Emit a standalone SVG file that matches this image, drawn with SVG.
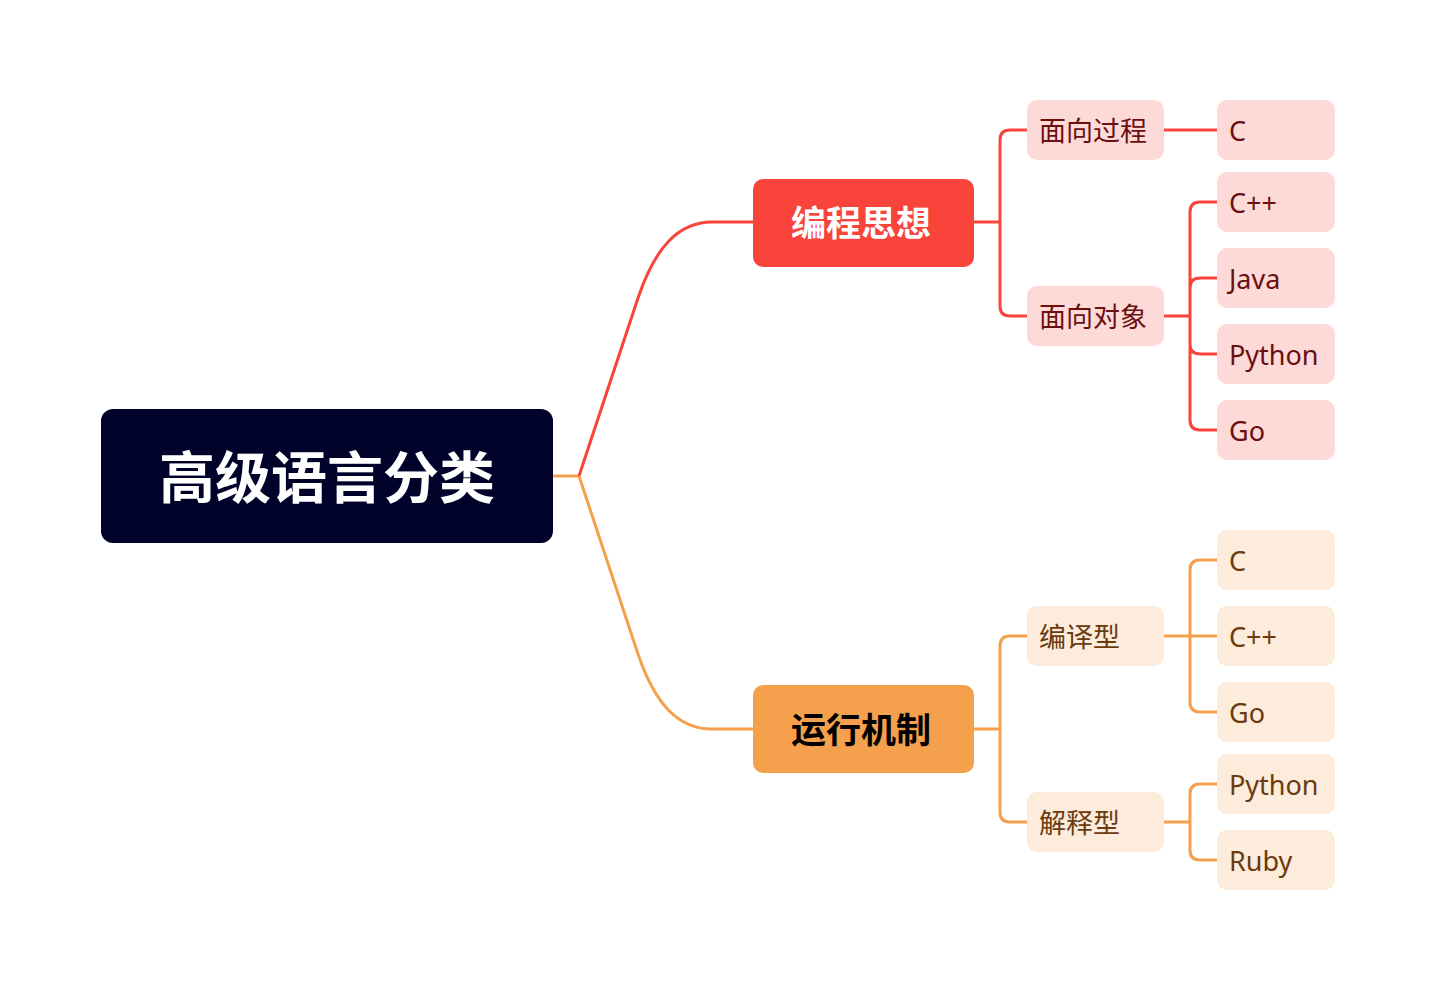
<svg xmlns="http://www.w3.org/2000/svg" width="1436" height="990" viewBox="0 0 1436 990">
<style>
.cn{font-family:"Noto Sans","Noto Sans CJK SC",sans-serif}
.root{fill:#000229}
.rt{fill:#fff;font-size:56px;font-weight:bold}
.l1t{font-size:35px;font-weight:bold}
.lt{font-size:27px}
.rbox{fill:#FDDAD8}
.obox{fill:#FDEBDC}
.rtx{fill:#6A1010}
.otx{fill:#6B3A0F}
.rc{fill:none;stroke:#F9443B;stroke-width:3}
.oc{fill:none;stroke:#F5A04C;stroke-width:3}
</style>
<rect width="1436" height="990" fill="#fff"/>
<g id="connectors">
<path class="oc" d="M553 476 L579 476"/>
<path class="rc" d="M579 476 L638 298 C655 248 678 222 712 222 L753 222"/>
<path class="oc" d="M579 476 L638 654 C655 704 678 729 712 729 L753 729"/>
<path class="rc" d="M974 222 L1000 222 M1027 130 L1010 130 Q1000 130 1000 140 L1000 306 Q1000 316 1010 316 L1027 316"/>
<path class="rc" d="M1164 130 L1217 130"/>
<path class="rc" d="M1164 316 L1190 316 M1217 202 L1200 202 Q1190 202 1190 212 L1190 420 Q1190 430 1200 430 L1217 430 M1190 278 Q1190 278 1190 288 M1217 278 L1200 278 Q1190 278 1190 288 M1217 354 L1200 354 Q1190 354 1190 344"/>
<path class="oc" d="M974 729 L1000 729 M1027 636 L1010 636 Q1000 636 1000 646 L1000 812 Q1000 822 1010 822 L1027 822"/>
<path class="oc" d="M1164 636 L1217 636 M1217 560 L1200 560 Q1190 560 1190 570 L1190 702 Q1190 712 1200 712 L1217 712"/>
<path class="oc" d="M1164 822 L1190 822 M1217 784 L1200 784 Q1190 784 1190 794 L1190 850 Q1190 860 1200 860 L1217 860"/>
</g>
<g id="root">
<rect class="root" x="101" y="409" width="452" height="134" rx="12"/>
<text class="cn rt" x="327" y="476" text-anchor="middle" dominant-baseline="central">高级语言分类</text>
</g>
<g id="n-bianchengsixiang">
<rect x="753" y="179" width="221" height="88" rx="10" fill="#F9443B"/>
<text class="cn l1t" x="861" y="222" text-anchor="middle" dominant-baseline="central" fill="#fff">编程思想</text>
</g>
<g id="n-yunxingjizhi">
<rect x="753" y="685" width="221" height="88" rx="10" fill="#F5A04C"/>
<text class="cn l1t" x="861" y="729" text-anchor="middle" dominant-baseline="central" fill="#000">运行机制</text>
</g>
<g id="n-mxgc"><rect class="rbox" x="1027" y="100" width="137" height="60" rx="10"/><text class="cn lt rtx" x="1039" y="130" dominant-baseline="central">面向过程</text></g>
<g id="n-mxdx"><rect class="rbox" x="1027" y="286" width="137" height="60" rx="10"/><text class="cn lt rtx" x="1039" y="316" dominant-baseline="central">面向对象</text></g>
<g id="n-r-c"><rect class="rbox" x="1217" y="100" width="118" height="60" rx="10"/><text class="cn lt rtx" x="1229" y="130" dominant-baseline="central">C</text></g>
<g id="n-r-cpp"><rect class="rbox" x="1217" y="172" width="118" height="60" rx="10"/><text class="cn lt rtx" x="1229" y="202" dominant-baseline="central">C++</text></g>
<g id="n-r-java"><rect class="rbox" x="1217" y="248" width="118" height="60" rx="10"/><text class="cn lt rtx" x="1229" y="278" dominant-baseline="central">Java</text></g>
<g id="n-r-python"><rect class="rbox" x="1217" y="324" width="118" height="60" rx="10"/><text class="cn lt rtx" x="1229" y="354" dominant-baseline="central">Python</text></g>
<g id="n-r-go"><rect class="rbox" x="1217" y="400" width="118" height="60" rx="10"/><text class="cn lt rtx" x="1229" y="430" dominant-baseline="central">Go</text></g>
<g id="n-byx"><rect class="obox" x="1027" y="606" width="137" height="60" rx="10"/><text class="cn lt otx" x="1039" y="636" dominant-baseline="central">编译型</text></g>
<g id="n-jsx"><rect class="obox" x="1027" y="792" width="137" height="60" rx="10"/><text class="cn lt otx" x="1039" y="822" dominant-baseline="central">解释型</text></g>
<g id="n-o-c"><rect class="obox" x="1217" y="530" width="118" height="60" rx="10"/><text class="cn lt otx" x="1229" y="560" dominant-baseline="central">C</text></g>
<g id="n-o-cpp"><rect class="obox" x="1217" y="606" width="118" height="60" rx="10"/><text class="cn lt otx" x="1229" y="636" dominant-baseline="central">C++</text></g>
<g id="n-o-go"><rect class="obox" x="1217" y="682" width="118" height="60" rx="10"/><text class="cn lt otx" x="1229" y="712" dominant-baseline="central">Go</text></g>
<g id="n-o-python"><rect class="obox" x="1217" y="754" width="118" height="60" rx="10"/><text class="cn lt otx" x="1229" y="784" dominant-baseline="central">Python</text></g>
<g id="n-o-ruby"><rect class="obox" x="1217" y="830" width="118" height="60" rx="10"/><text class="cn lt otx" x="1229" y="860" dominant-baseline="central">Ruby</text></g>
</svg>
